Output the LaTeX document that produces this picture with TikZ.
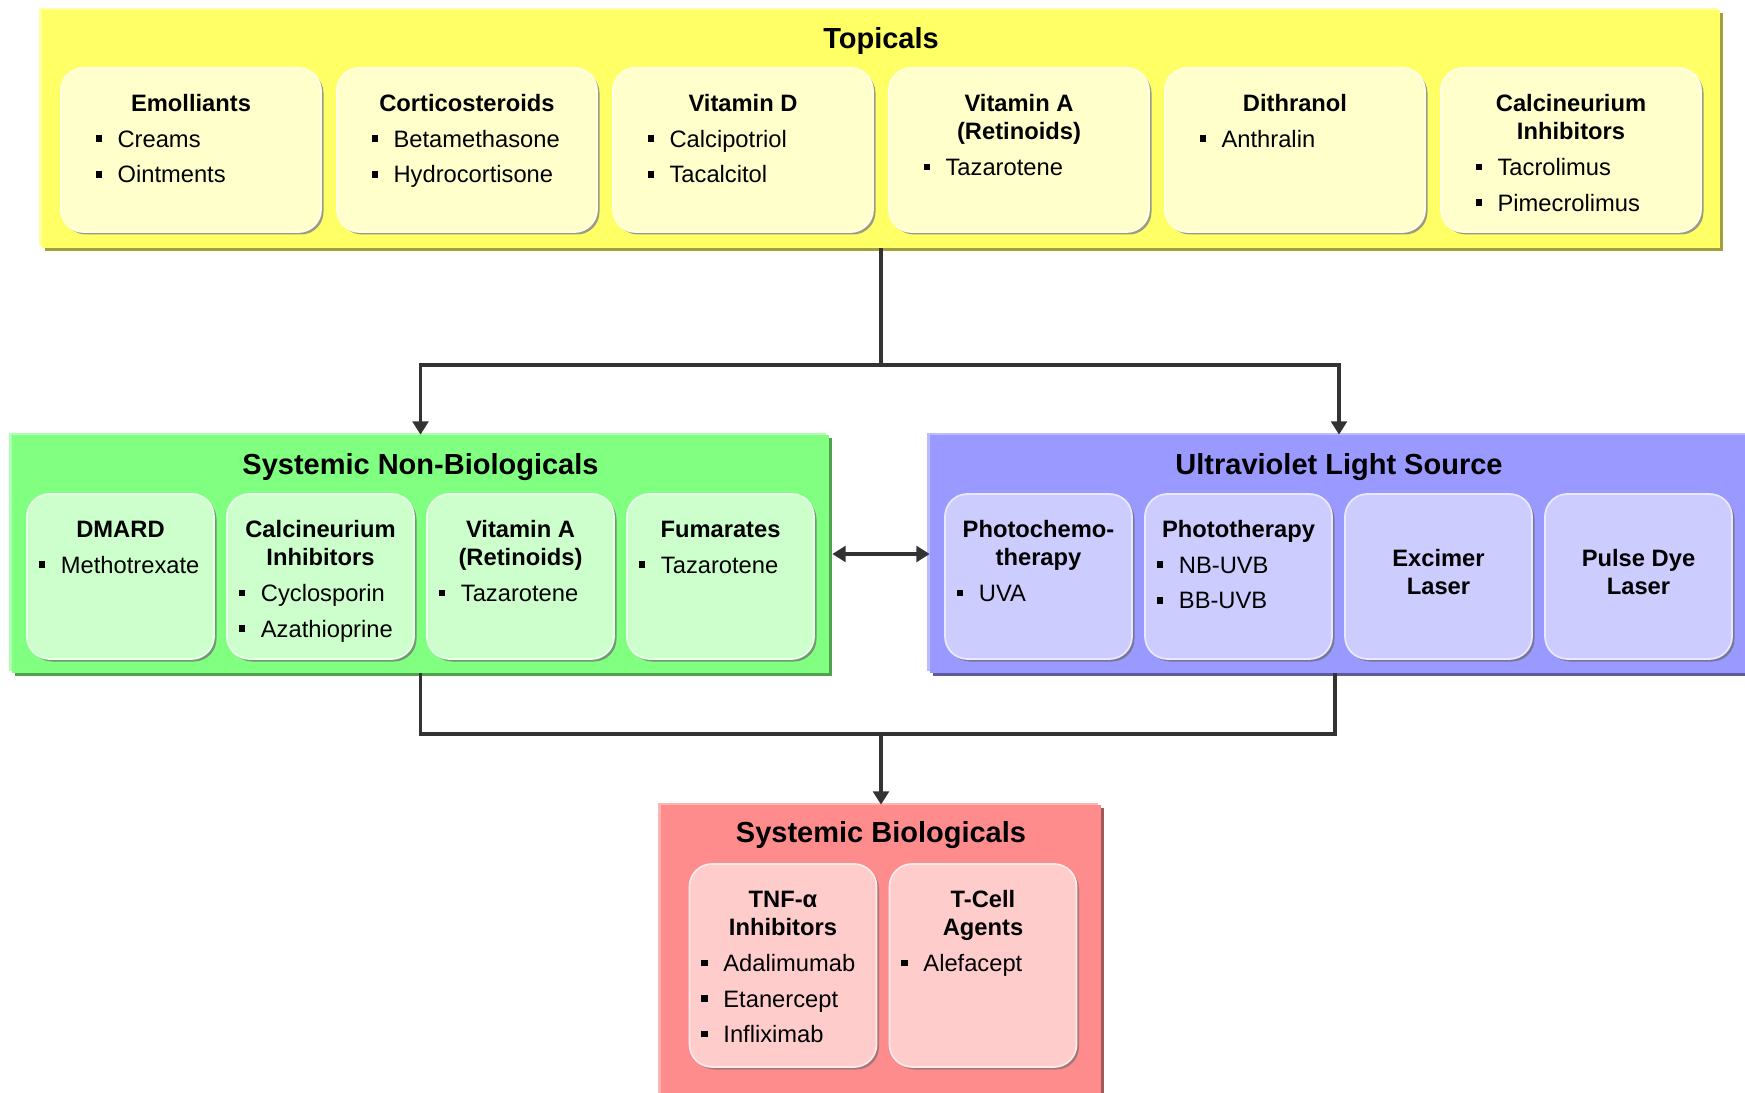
\documentclass[tikz,border=0pt]{standalone}
\usepackage{fontspec}
\setmainfont{Liberation Sans}
\usepackage{xcolor}
\usepackage{tikz}
\usetikzlibrary{arrows.meta, shadows}

\definecolor{topfill}{HTML}{FFFF66}
\definecolor{toplight}{HTML}{FFFFA0}
\definecolor{topdark}{HTML}{A0A040}
\definecolor{topcard}{HTML}{FFFFCC}
\definecolor{topshade}{RGB}{155,155,130}
\definecolor{nbfill}{HTML}{80FF80}
\definecolor{nblight}{HTML}{B0FFB0}
\definecolor{nbdark}{HTML}{50A050}
\definecolor{nbcard}{HTML}{CCFFCC}
\definecolor{nbshade}{RGB}{115,150,115}
\definecolor{uvfill}{HTML}{9999FF}
\definecolor{uvlight}{HTML}{BBBBFF}
\definecolor{uvdark}{HTML}{5C5C99}
\definecolor{uvcard}{HTML}{CCCCFF}
\definecolor{uvshade}{RGB}{120,120,150}
\definecolor{biofill}{HTML}{FF8C8C}
\definecolor{biolight}{HTML}{FFB4B4}
\definecolor{biodark}{HTML}{A05A5A}
\definecolor{biocard}{HTML}{FFCCCC}
\definecolor{bioshade}{RGB}{165,120,120}
\definecolor{linkgray}{HTML}{333333}

\newlength{\bulind}
\newcommand{\itm}[1]{\par\hspace*{\bulind}\raisebox{3pt}{\rule{3.7pt}{3.7pt}}\hspace{8.8pt}#1}
\newcommand{\cardtext}[4]{%
  \begin{minipage}[t][#2][t]{#1}%
  \fontsize{13.5}{16}\selectfont\setlength{\parskip}{4.3pt}%
  \centering\rule{0pt}{24.8pt}\textbf{#3}\par
  \raggedright #4%
  \end{minipage}}

\begin{document}
\begin{tikzpicture}[
    panel/.style n args={3}{fill=#1, draw=none, inner sep=0pt,
      drop shadow={shadow xshift=-0.06cm, shadow yshift=0.04cm, fill=#2, opacity=1},
      drop shadow={shadow xshift=0.06cm, shadow yshift=-0.06cm, fill=#3, opacity=1}},
    heading/.style={font=\fontsize{16.5}{19}\selectfont\bfseries},
    card/.style n args={2}{fill=#1, draw=white!55!#1, line width=1pt,
      rounded corners=0.45cm, inner sep=0pt,
      drop shadow={shadow xshift=0.05cm, shadow yshift=-0.05cm, fill=#2, opacity=1}},
    ycard/.style={card={topcard}{topshade}, execute at begin node={\setlength{\bulind}{19.7pt}}},
    gcard/.style={card={nbcard}{nbshade}, execute at begin node={\setlength{\bulind}{6.8pt}}},
    bcard/.style={card={uvcard}{uvshade}, execute at begin node={\setlength{\bulind}{6.8pt}}},
    rcard/.style={card={biocard}{bioshade}, execute at begin node={\setlength{\bulind}{6.8pt}}},
    plaincard/.style={minimum width=3.74cm, minimum height=3.3cm, align=center, text depth=0.2cm,
      font=\fontsize{13.5}{16}\selectfont\bfseries},
    link/.style={draw=linkgray, line width=1.8pt},
    arr/.style={link, -{Triangle[length=7.6pt, width=9pt]}},
    arr2/.style={link, {Triangle[length=7.6pt, width=9pt]}-{Triangle[length=7.6pt, width=9pt]}}
  ]
    \useasboundingbox (0,0) rectangle (34.9,21.84);

    % Panels
    \node[panel={topfill}{toplight}{topdark}, minimum width=33.56cm, minimum height=4.76cm] (top) at (17.62,19.26) {};
    \node[panel={nbfill}{nblight}{nbdark}, minimum width=16.34cm, minimum height=4.76cm] (nonbio) at (8.41,10.76) {};
    \node[panel={uvfill}{uvlight}{uvdark}, minimum width=16.36cm, minimum height=4.76cm] (uv) at (26.78,10.76) {};
    \node[panel={biofill}{biolight}{biodark}, minimum width=8.8cm, minimum height=6cm] (bio) at (17.62,2.74) {};

    \node[heading] (toptitle) at ([yshift=-0.63cm]top.north) {Topicals};
    \node[heading] (nbtitle) at ([yshift=-0.65cm]nonbio.north) {Systemic Non-Biologicals};
    \node[heading] (uvtitle) at ([yshift=-0.65cm]uv.north) {Ultraviolet Light Source};
    \node[heading] (biotitle) at ([yshift=-0.6cm]bio.north) {Systemic Biologicals};

    % Topicals
    \node[ycard] (emol) at (3.82,18.84) {\cardtext{5.2cm}{3.28cm}{Emolliants}{\itm{Creams}\itm{Ointments}}};
    \node[ycard] (cortico) at (9.34,18.84) {\cardtext{5.2cm}{3.28cm}{Corticosteroids}{\itm{Betamethasone}\itm{Hydrocortisone}}};
    \node[ycard] (vitd) at (14.86,18.84) {\cardtext{5.2cm}{3.28cm}{Vitamin D}{\itm{Calcipotriol}\itm{Tacalcitol}}};
    \node[ycard] (vita) at (20.38,18.84) {\cardtext{5.2cm}{3.28cm}{Vitamin A\\(Retinoids)}{\itm{Tazarotene}}};
    \node[ycard] (dithr) at (25.90,18.84) {\cardtext{5.2cm}{3.28cm}{Dithranol}{\itm{Anthralin}}};
    \node[ycard] (calci) at (31.42,18.84) {\cardtext{5.2cm}{3.28cm}{Calcineurium\\Inhibitors}{\itm{Tacrolimus}\itm{Pimecrolimus}}};

    % Systemic non-biologicals
    \node[gcard] (dmard) at (2.41,10.31) {\cardtext{3.74cm}{3.3cm}{DMARD}{\itm{Methotrexate}}};
    \node[gcard] (calcisys) at (6.41,10.31) {\cardtext{3.74cm}{3.3cm}{Calcineurium\\Inhibitors}{\itm{Cyclosporin}\itm{Azathioprine}}};
    \node[gcard] (vitasys) at (10.41,10.31) {\cardtext{3.74cm}{3.3cm}{Vitamin A\\(Retinoids)}{\itm{Tazarotene}}};
    \node[gcard] (fumar) at (14.41,10.31) {\cardtext{3.74cm}{3.3cm}{Fumarates}{\itm{Tazarotene}}};

    % Ultraviolet
    \node[bcard] (puva) at (20.77,10.31) {\cardtext{3.74cm}{3.3cm}{Photochemo-\\therapy}{\itm{UVA}}};
    \node[bcard] (photo) at (24.77,10.31) {\cardtext{3.74cm}{3.3cm}{Phototherapy}{\itm{NB-UVB}\itm{BB-UVB}}};
    \node[bcard, plaincard] (excim) at (28.77,10.31) {Excimer\\Laser};
    \node[bcard, plaincard] (pdl) at (32.77,10.31) {Pulse Dye\\Laser};

    % Systemic biologicals
    \node[rcard] (tnf) at (15.66,2.53) {\cardtext{3.74cm}{4.06cm}{TNF-α\\Inhibitors}{\itm{Adalimumab}\itm{Etanercept}\itm{Infliximab}}};
    \node[rcard] (tcell) at (19.66,2.53) {\cardtext{3.74cm}{4.06cm}{T-Cell\\Agents}{\itm{Alefacept}}};

    % Connectors
    \coordinate (fork) at (17.62,14.54);
    \coordinate (join) at (17.62,7.16);
    \draw[link] (top.south) -- (fork);
    \draw[arr] (fork) -| (nonbio.north);
    \draw[arr] (fork) -| (uv.north);
    \draw[arr2] ([xshift=0.06cm]nonbio.east) -- (uv.west);
    \draw[link] (nonbio.south) |- (join) -| ([xshift=-0.08cm]uv.south);
    \draw[arr] (join) -- (bio.north);
\end{tikzpicture}
\end{document}
